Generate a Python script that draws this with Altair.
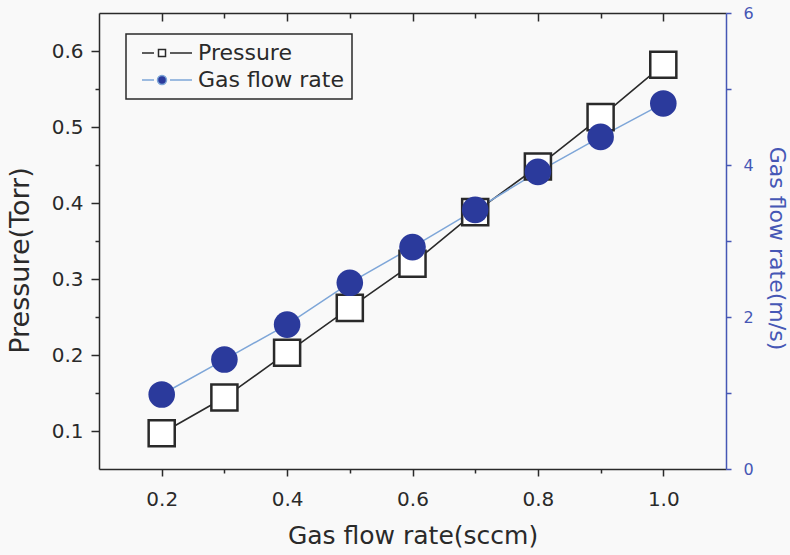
import altair as alt
import pandas as pd

flow_sccm = [0.2, 0.3, 0.4, 0.5, 0.6, 0.7, 0.8, 0.9, 1.0]
pressure = [0.097, 0.144, 0.203, 0.262, 0.320, 0.388, 0.448, 0.513, 0.582]
gas_speed = [0.98, 1.44, 1.90, 2.45, 2.92, 3.41, 3.91, 4.37, 4.81]
series = ["Pressure", "Gas flow rate"]

df = pd.DataFrame({"flow": flow_sccm, "pressure": pressure, "gas": gas_speed})

FONT = "DejaVu Sans"
W, H = 627, 456
XDOM = [0.1, 1.1]
PDOM = [0.05, 0.65]
GDOM = [0, 6]
NAVY = "#2b3a9c"
LBLUE = "#7ea6d8"
AXBLUE = "#4657b5"
DARK = "#2a2a2a"

base = alt.Chart(df)
xs = alt.Scale(domain=XDOM, nice=False, zero=False)
ps = alt.Scale(domain=PDOM, nice=False, zero=False)
gs = alt.Scale(domain=GDOM, nice=False, zero=False)

x_main = alt.X("flow:Q", scale=xs, axis=alt.Axis(
    orient="bottom", values=[0.2, 0.4, 0.6, 0.8, 1.0], format=".1f",
    title="Gas flow rate(sccm)", titleFont=FONT, titleFontSize=25, titleFontWeight="normal",
    titleColor=DARK, titlePadding=14, labelFont=FONT, labelFontSize=20, labelColor=DARK,
    labelPadding=13, tickSize=7, tickWidth=1.5, tickColor=DARK, domainColor=DARK,
    domainWidth=1.5, grid=False))
y_main = alt.Y("pressure:Q", scale=ps, axis=alt.Axis(
    orient="left", values=[0.1, 0.2, 0.3, 0.4, 0.5, 0.6], format=".1f",
    title="Pressure(Torr)", titleFont=FONT, titleFontSize=27, titleFontWeight="normal",
    titleColor=DARK, titlePadding=17, titleY=247, labelFont=FONT, labelFontSize=20,
    labelColor=DARK, labelPadding=8, tickSize=8, tickWidth=1.5, tickColor=DARK,
    domainColor=DARK, domainWidth=1.5, grid=False))

p_line = base.mark_line(color=DARK, strokeWidth=1.6).encode(x=x_main, y=y_main)
p_pts = base.mark_point(shape="square", filled=True, fill="white", stroke=DARK,
                        strokeWidth=2.5, size=680, opacity=1).encode(
    x=alt.X("flow:Q", scale=xs, axis=None),
    y=alt.Y("pressure:Q", scale=ps, axis=None))

g_line = base.mark_line(color=LBLUE, strokeWidth=1.5).encode(
    x=alt.X("flow:Q", scale=xs, axis=None),
    y=alt.Y("gas:Q", scale=gs, axis=alt.Axis(
        orient="right", values=[0, 1, 2, 3, 4, 5, 6],
        labelExpr="datum.value % 2 == 0 ? datum.label : ''",
        title="Gas flow rate(m/s)", titleFont=FONT, titleFontSize=22,
        titleFontWeight="normal", titleColor=AXBLUE, titleAngle=90, titlePadding=11,
        titleY=235, labelFont=FONT, labelFontSize=16, labelColor=AXBLUE, labelPadding=12,
        tickSize=5, tickWidth=1.5, tickColor=AXBLUE, domainColor=AXBLUE,
        domainWidth=1.5, grid=False)))
g_pts = base.mark_circle(color=NAVY, size=707, opacity=1).encode(
    x=alt.X("flow:Q", scale=xs, axis=None),
    y=alt.Y("gas:Q", scale=gs, axis=None))

# minor ticks (bottom, left) and the top frame axis
minor = base.mark_point(opacity=0).encode(
    x=alt.X("flow:Q", scale=xs, axis=alt.Axis(
        orient="bottom", values=[0.3, 0.5, 0.7, 0.9], labels=False, domain=False,
        title=None, tickSize=4, tickWidth=1.5, tickColor=DARK, grid=False)),
    y=alt.Y("pressure:Q", scale=ps, axis=alt.Axis(
        orient="left", values=[0.15, 0.25, 0.35, 0.45, 0.55], labels=False,
        domain=False, title=None, tickSize=4, tickWidth=1.5, tickColor=DARK, grid=False)))
top_major = base.mark_point(opacity=0).encode(
    x=alt.X("flow:Q", scale=xs, axis=alt.Axis(
        orient="bottom", offset=-H, values=[0.2, 0.4, 0.6, 0.8, 1.0], labels=False,
        domain=True, domainColor=DARK, domainWidth=1.5, title=None, tickSize=8,
        tickWidth=1.5, tickColor=DARK, grid=False)))
top_minor = base.mark_point(opacity=0).encode(
    x=alt.X("flow:Q", scale=xs, axis=alt.Axis(
        orient="bottom", offset=-H, values=[0.3, 0.5, 0.7, 0.9], labels=False,
        domain=False, title=None, tickSize=5, tickWidth=1.5, tickColor=DARK, grid=False)))

# legend glyphs: unit = 10 px (symbolSize 400), path drawn from -0.3 to 4.7
SQ = "M-0.3,0L0.9,0M1.35,-0.35L2.05,-0.35L2.05,0.35L1.35,0.35ZM2.5,0L4.7,0"
CI = ("M-0.3,0L0.9,0M2.15,0A0.45,0.45 0 1,1 1.25,0A0.45,0.45 0 1,1 2.15,0Z"
      "M2.5,0L4.7,0")
leg_df = pd.DataFrame({"s": series})
legend_layer = alt.Chart(leg_df).mark_point(filled=True, opacity=1).encode(
    shape=alt.Shape("s:N", scale=alt.Scale(domain=series, range=[SQ, CI]),
                    legend=alt.Legend(title=None)),
    fill=alt.Fill("s:N", scale=alt.Scale(domain=series, range=["white", NAVY]),
                  legend=alt.Legend(title=None)),
    stroke=alt.Stroke("s:N", scale=alt.Scale(domain=series, range=[DARK, LBLUE]),
                      legend=alt.Legend(title=None)),
).transform_filter("false")

chart = alt.layer(
    p_line, g_line, p_pts, g_pts, minor, top_major, top_minor, legend_layer
).resolve_scale(y="independent").resolve_axis(x="independent", y="independent").properties(
    width=W, height=H,
    autosize=alt.AutoSizeParams(type="none"),
    padding={"left": 99, "top": 13, "right": 64, "bottom": 86},
    background="#f9f9f9",
).configure_view(stroke=None).configure_legend(
    orient="none", legendX=27, legendY=21, strokeColor=DARK, strokeWidth=1.5,
    padding=8, fillColor="#f9f9f9", symbolSize=400, symbolStrokeWidth=1.5,
    labelFont=FONT, labelFontSize=22, labelColor=DARK, labelOffset=42, rowPadding=5,
    cornerRadius=0,
)

chart.save("out.html", embed_options={"renderer": "svg", "actions": False})
